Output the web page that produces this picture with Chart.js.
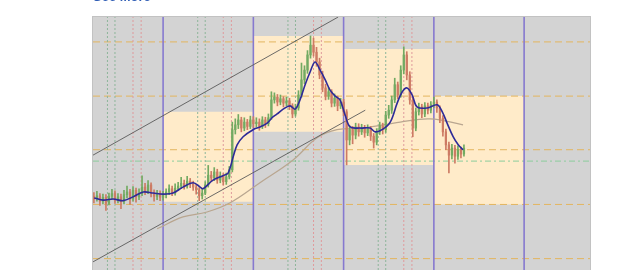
<!DOCTYPE html>
<html>
<head>
<meta charset="utf-8">
<script src="https://cdn.jsdelivr.net/npm/chart.js@4.4.1/dist/chart.umd.min.js"></script>
<style>
  body { margin: 0; background: #fff; overflow: hidden; }
  #wrap { position: relative; width: 644px; height: 270px; }
  #more { position: absolute; left: 93px; top: -10px; font: bold 13px Arial, "Liberation Sans", sans-serif; color: #2f5db5; line-height: 14px; }
  canvas { position: absolute; left: 0; top: 0; }
</style>
</head>
<body>
<div id="wrap">
  <canvas id="chart" width="644" height="270"></canvas>
  <div id="more">See More</div>
</div>
<script>
// price scale bounds and the first bar index
const yMin = 97.9, yMax = 144.6;
const xMin = -23.3, xMax = 141.9;
const firstBar = -23;

// candles, one per bar from firstBar
const opens = [111.5,111.0,111.6,110.6,111.3,110.2,111.5,112.0,110.8,111.4,110.5,111.8,112.3,111.0,112.6,111.4,112.0,113.2,112.5,113.6,112.1,111.5,112.0,
  111.3,111.8,112.3,112.9,112.1,113.0,113.4,113.9,113.4,114.3,113.8,113.2,112.7,111.6,112.1,113.6,115.4,114.9,116.0,114.5,115.3,114.2,115.1,116.4,123.8,124.7,125.6,124.1,125.2,124.4,
  125.6,124.9,125.2,124.4,125.6,124.9,126.0,129.3,129.8,128.9,129.5,128.7,129.1,128.2,126.7,127.8,130.2,133.0,134.8,137.6,139.4,138.1,136.3,133.9,131.5,130.0,130.8,128.7,129.6,128.2,
  128.9,127.1,121.9,123.8,122.8,124.3,123.4,124.1,123.2,124.0,122.6,121.5,123.4,124.5,123.8,126.5,127.4,129.3,132.1,130.2,134.8,137.6,133.9,129.3,124.1,127.1,128.0,126.7,128.2,127.4,
  128.4,128.9,127.8,125.9,123.4,121.0,119.1,120.4,118.9,120.1,119.3];
const highs = [112.2,112.4,112.0,111.9,111.8,112.1,112.8,112.5,112.0,111.9,112.6,113.4,112.8,113.3,113.0,112.9,115.3,113.9,114.4,114.0,112.7,112.6,112.5,
  112.4,112.9,113.6,113.4,113.8,114.1,115.0,114.5,115.2,114.8,114.3,113.7,113.1,112.8,114.2,117.2,116.1,116.8,116.5,116.0,115.7,115.8,117.0,125.2,125.8,126.6,126.1,126.0,125.7,126.3,
  126.2,126.0,125.8,126.2,126.1,126.7,130.8,130.6,130.3,130.2,129.9,129.8,129.6,128.6,128.5,131.0,136.1,135.6,138.4,141.1,140.7,139.0,137.0,134.6,132.2,131.6,131.2,130.4,130.0,129.6,
  129.4,127.5,124.5,124.4,125.0,124.9,124.8,124.6,124.7,124.4,123.1,124.0,125.2,125.0,127.2,128.3,130.0,133.3,132.6,135.6,139.1,138.2,134.5,129.8,127.8,128.7,128.5,128.8,128.7,129.0,
  129.8,129.3,128.2,126.4,123.9,121.5,121.1,120.9,120.8,120.6,121.0];
const lows = [110.3,110.6,109.8,110.1,108.9,109.9,111.0,110.2,110.3,109.2,110.1,111.2,110.0,110.6,110.4,110.9,111.6,111.8,112.0,111.4,110.6,110.9,110.7,
  110.8,111.2,111.8,111.6,111.7,112.6,112.9,112.8,113.0,113.1,112.6,111.9,110.7,111.0,111.8,113.2,114.2,114.4,113.9,114.0,113.6,113.7,114.7,116.0,123.0,124.0,123.4,123.6,123.8,124.0,
  124.2,124.3,123.7,124.0,124.2,124.5,125.7,128.7,128.2,128.4,128.0,128.2,127.5,126.0,126.3,127.4,129.8,132.3,134.2,137.0,137.4,135.5,133.2,130.8,129.3,129.4,128.0,128.1,127.3,127.7,
  126.4,117.3,121.0,121.2,122.1,122.6,122.9,122.4,122.7,121.8,120.4,121.0,122.9,123.0,123.3,125.9,126.8,128.8,129.5,129.8,134.1,133.0,128.5,122.5,123.6,126.5,126.0,126.2,126.7,126.9,
  127.9,127.0,125.1,122.6,120.1,115.8,118.4,117.6,118.3,118.6,118.9];
const closes = [111.0,111.6,110.6,111.3,110.2,111.5,112.0,110.8,111.4,110.5,111.8,112.3,111.0,112.6,111.4,112.0,113.2,112.5,113.6,112.1,111.5,112.0,111.3,
  111.8,112.3,112.9,112.1,113.0,113.4,113.9,113.4,114.3,113.8,113.2,112.7,111.6,112.1,113.6,115.4,114.9,116.0,114.5,115.3,114.2,115.1,116.4,123.8,124.7,125.6,124.1,125.2,124.4,125.6,
  124.9,125.2,124.4,125.6,124.9,126.0,129.3,129.8,128.9,129.5,128.7,129.1,128.2,126.7,127.8,130.2,133.0,134.8,137.6,139.4,138.1,136.3,133.9,131.5,130.0,130.8,128.7,129.6,128.2,128.9,
  127.1,121.9,123.8,122.8,124.3,123.4,124.1,123.2,124.0,122.6,121.5,123.4,124.5,123.8,126.5,127.4,129.3,132.1,130.2,134.8,137.6,133.9,129.3,124.1,127.1,128.0,126.7,128.2,127.4,128.4,
  128.9,127.8,125.9,123.4,121.0,119.1,120.4,118.9,120.1,119.3,120.4];

// short moving average (blue)
const maX = [-22.9,-19.9,-16.6,-13.3,-10.0,-6.6,-3.3,0,3.3,6.6,10.0,12.3,13.3,16.6,19.9,21.6,23.3,24.6,26.6,29.9,32.2,34.6,36.2,37.9,39.9,42.2,43.9,45.5,47.2,48.9,50.5,
  52.2,53.9,55.5,57.2,58.8,60.5,62.2,65.5,68.8,70.5,72.8,75.5,77.8,79.5,81.1,82.8,84.4,87.8,91.1,92.8,94.4,96.4,98.1,99.7];
const maY = [111.2,110.8,111.0,110.7,111.4,112.3,112.1,111.9,112.1,113.2,114.0,113.2,112.9,114.5,115.3,115.8,118.8,121.0,122.5,123.8,124.3,125.0,126.0,126.7,127.6,128.2,127.6,129.3,132.1,134.5,136.3,
  134.8,133.0,131.1,130.0,129.3,126.5,124.3,124.1,124.1,123.4,123.8,125.2,128.7,130.8,131.5,130.2,128.0,127.8,128.4,127.1,125.0,122.5,121.0,120.1];

// long moving average (tan)
const longX = [-2.0,6.6,14.6,22.3,32.2,43.2,51.2,57.8,66.5,78.8,88.8,99.7];
const longY = [105.5,107.7,108.6,110.3,114.0,118.2,122.3,123.8,124.1,125.2,125.8,124.7];

// trend channel lines [x1, y1, x2, y2]
const trendUpper = [-23.3, 119.1, 58.2, 144.6];
const trendLower = [-23.3, 99.4, 67.2, 127.4];

// session boxes: start, end, top, bottom
const boxStart = [0, 30, 60, 90];
const boxEnd = [30, 60, 90, 120];
const boxTop = [127.1, 141.1, 138.7, 130.0];
const boxBottom = [110.5, 123.4, 117.3, 110.0];

// session separators and markers
const sessionLines = [0, 30, 60, 90, 120];
const greenMarks = [-18.5, -16, 11.5, 14, 41.5, 44, 71.5, 74];
const redMarks = [-10, -7.3, 20, 22.7, 50, 52.6, 80, 82.7];

// horizontal levels
const pivotLevels = [140, 130, 120.1, 110, 100];
const midLevel = 118.0;

const UP = '#72aa62', DOWN = '#cd7b64';

const datasets = [];

boxStart.forEach((s, i) => {
  datasets.push({
    type: 'line', order: 20,
    data: [{ x: s, y: boxTop[i] }, { x: boxEnd[i], y: boxTop[i] }],
    borderWidth: 0, pointRadius: 0,
    backgroundColor: '#ffebc9',
    fill: { value: boxBottom[i] }
  });
});

pivotLevels.forEach(v => {
  datasets.push({
    type: 'line', order: 15,
    data: [{ x: xMin, y: v }, { x: xMax, y: v }],
    borderColor: '#e3b55f', borderWidth: 1, borderDash: [7, 4],
    pointRadius: 0, fill: false
  });
});
datasets.push({
  type: 'line', order: 15,
  data: [{ x: xMin, y: midLevel }, { x: xMax, y: midLevel }],
  borderColor: '#8ccd9c', borderWidth: 1, borderDash: [6, 3, 2, 3],
  pointRadius: 0, fill: false
});

greenMarks.forEach(x => {
  datasets.push({
    type: 'line', order: 14,
    data: [{ x: x, y: yMin }, { x: x, y: yMax }],
    borderColor: '#8db59a', borderWidth: 1, borderDash: [2, 2],
    pointRadius: 0, fill: false
  });
});
redMarks.forEach(x => {
  datasets.push({
    type: 'line', order: 14,
    data: [{ x: x, y: yMin }, { x: x, y: yMax }],
    borderColor: '#df9a9c', borderWidth: 1, borderDash: [2, 2],
    pointRadius: 0, fill: false
  });
});
sessionLines.forEach(x => {
  datasets.push({
    type: 'line', order: 13,
    data: [{ x: x, y: yMin }, { x: x, y: yMax }],
    borderColor: '#8679cf', borderWidth: 1.6,
    pointRadius: 0, fill: false
  });
});

datasets.push({
  type: 'line', order: 8,
  data: longX.map((x, i) => ({ x: x, y: longY[i] })),
  borderColor: '#b9a690', borderWidth: 1.2, pointRadius: 0, tension: 0.4, fill: false
});
[trendUpper, trendLower].forEach(t => {
  datasets.push({
    type: 'line', order: 7,
    data: [{ x: t[0], y: t[1] }, { x: t[2], y: t[3] }],
    borderColor: '#5a5a5a', borderWidth: 0.9, pointRadius: 0, fill: false
  });
});

const candleColors = closes.map((c, i) => c >= opens[i] ? UP : DOWN);
datasets.push({
  type: 'bar', order: 5, grouped: false,
  data: highs.map((h, i) => ({ x: firstBar + i, y: [lows[i], h] })),
  backgroundColor: candleColors, barThickness: 1
});
datasets.push({
  type: 'bar', order: 4, grouped: false, minBarLength: 1,
  data: opens.map((o, i) => ({ x: firstBar + i, y: [Math.min(o, closes[i]), Math.max(o, closes[i])] })),
  backgroundColor: candleColors, barThickness: 1.6
});

datasets.push({
  type: 'line', order: 1,
  data: maX.map((x, i) => ({ x: x, y: maY[i] })),
  borderColor: '#2d2a98', borderWidth: 1.6, pointRadius: 0, tension: 0.35, fill: false
});

const plotBackground = {
  id: 'plotBackground',
  beforeDatasetsDraw(chart) {
    const a = chart.chartArea, ctx = chart.ctx;
    ctx.save();
    ctx.fillStyle = '#d3d3d3';
    ctx.fillRect(a.left, a.top, a.right - a.left, a.bottom - a.top);
    ctx.strokeStyle = '#c2c2c2';
    ctx.lineWidth = 1;
    ctx.strokeRect(a.left - 0.5, a.top - 0.5, a.right - a.left + 1, a.bottom - a.top + 1);
    ctx.restore();
  }
};

new Chart(document.getElementById('chart').getContext('2d'), {
  type: 'bar',
  data: { datasets: datasets },
  options: {
    responsive: false,
    animation: false,
    events: [],
    layout: { padding: { left: 93, top: 17, right: 54, bottom: 0 } },
    scales: {
      x: { type: 'linear', min: xMin, max: xMax, offset: false, display: false },
      y: { type: 'linear', min: yMin, max: yMax, display: false }
    },
    plugins: { legend: { display: false }, tooltip: { enabled: false } }
  },
  plugins: [plotBackground]
});
</script>
</body>
</html>
